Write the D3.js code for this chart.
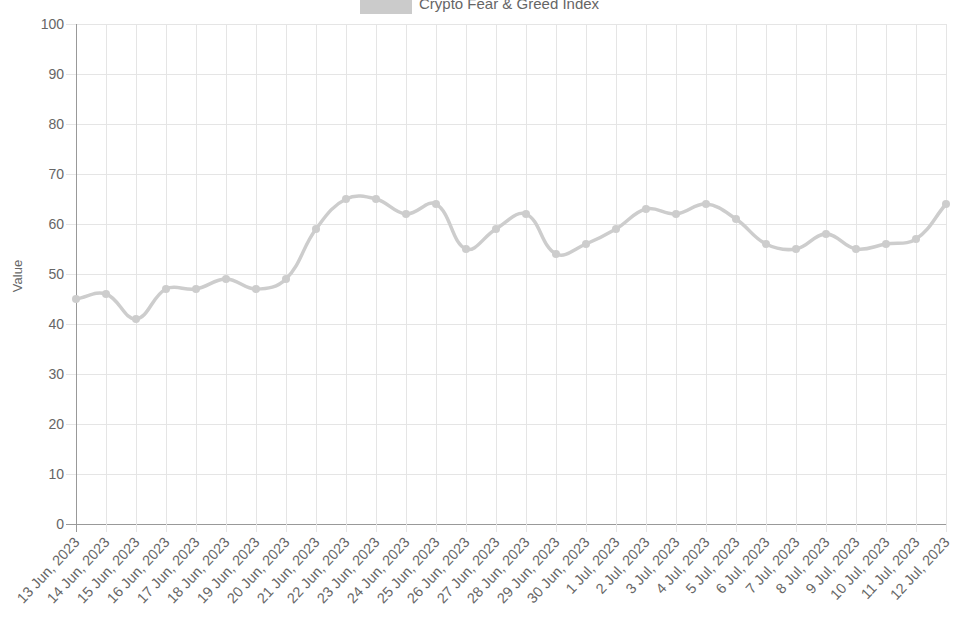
<!DOCTYPE html>
<html><head><meta charset="utf-8">
<script src="https://cdn.jsdelivr.net/npm/d3@7"></script>
<style>body{margin:0;background:#fff;}svg{display:block;font-family:"Liberation Sans",Arial,Helvetica,sans-serif;}</style>
</head><body>
<svg id="c" width="974" height="624"></svg>
<script>
const dates = ["13 Jun, 2023","14 Jun, 2023","15 Jun, 2023","16 Jun, 2023","17 Jun, 2023","18 Jun, 2023","19 Jun, 2023","20 Jun, 2023","21 Jun, 2023","22 Jun, 2023","23 Jun, 2023","24 Jun, 2023","25 Jun, 2023","26 Jun, 2023","27 Jun, 2023","28 Jun, 2023","29 Jun, 2023","30 Jun, 2023","1 Jul, 2023","2 Jul, 2023","3 Jul, 2023","4 Jul, 2023","5 Jul, 2023","6 Jul, 2023","7 Jul, 2023","8 Jul, 2023","9 Jul, 2023","10 Jul, 2023","11 Jul, 2023","12 Jul, 2023"];
const values = [45,46,41,47,47,49,47,49,59,65,65,62,64,55,59,62,54,56,59,63,62,64,61,56,55,58,55,56,57,64];
const yTicks = [0,10,20,30,40,50,60,70,80,90,100];
const seriesName = "Crypto Fear & Greed Index";

const svg = d3.select("#c");
const mLeft = 76, mRight = 946, mTop = 24, mBottom = 524;
const x = d3.scalePoint().domain(dates).range([mLeft, mRight]);
const y = d3.scaleLinear().domain([0,100]).range([mBottom, mTop]);
const grid = "#e5e5e5", axisCol = "#999", txt = "#666";

// horizontal grid
svg.append("g").selectAll("line").data(yTicks).join("line")
  .attr("x1", mLeft-10).attr("x2", mRight).attr("y1", d=>y(d)).attr("y2", d=>y(d))
  .attr("stroke", d=> d===0 ? axisCol : grid).attr("stroke-width",1)
  .attr("shape-rendering","crispEdges");
// vertical grid
svg.append("g").selectAll("line").data(dates).join("line")
  .attr("x1", d=>x(d)).attr("x2", d=>x(d)).attr("y1", mTop).attr("y2", mBottom+8)
  .attr("stroke", (d,i)=> i===0 ? axisCol : grid).attr("stroke-width",1)
  .attr("shape-rendering","crispEdges");

// y labels
svg.append("g").selectAll("text").data(yTicks).join("text")
  .attr("x", mLeft-12).attr("y", d=>y(d)).attr("dy","0.35em")
  .attr("text-anchor","end").attr("font-size",14).attr("fill",txt).text(d=>d);
// x labels
svg.append("g").selectAll("text").data(dates).join("text")
  .attr("transform", d=>`translate(${x(d)-3},${mBottom+12}) rotate(-47)`)
  .attr("text-anchor","end").attr("dy","0.7em").attr("font-size",14.5).attr("fill",txt).text(d=>d);
// y title
svg.append("text").attr("transform",`translate(22,${(mTop+mBottom)/2+2}) rotate(-90)`)
  .attr("text-anchor","middle").attr("font-size",13).attr("fill",txt).text("Value");

// legend
svg.append("rect").attr("x",360).attr("y",-1).attr("width",52).attr("height",15).attr("fill","#cbcbcb");
svg.append("text").attr("x",419).attr("y",9).attr("font-size",15).attr("fill",txt).text(seriesName);

// Chart.js style spline (tension 0.4)
const pts = values.map((v,i)=>[x(dates[i]), y(v)]);
const t = 0.4;
const cps = pts.map((p,i)=>{
  const prev = pts[Math.max(0,i-1)], next = pts[Math.min(pts.length-1,i+1)];
  const d01 = Math.hypot(p[0]-prev[0], p[1]-prev[1]);
  const d12 = Math.hypot(next[0]-p[0], next[1]-p[1]);
  let s01 = d01/(d01+d12), s12 = d12/(d01+d12);
  if (!isFinite(s01)) s01 = 0; if (!isFinite(s12)) s12 = 0;
  const fa = t*s01, fb = t*s12;
  return {prev:[p[0]-fa*(next[0]-prev[0]), p[1]-fa*(next[1]-prev[1])],
          next:[p[0]+fb*(next[0]-prev[0]), p[1]+fb*(next[1]-prev[1])]};
});
const path = d3.path();
path.moveTo(pts[0][0], pts[0][1]);
for (let i=1;i<pts.length;i++){
  const c1 = cps[i-1].next, c2 = cps[i].prev;
  path.bezierCurveTo(c1[0],c1[1],c2[0],c2[1],pts[i][0],pts[i][1]);
}
svg.append("path").attr("d", path.toString()).attr("fill","none")
  .attr("stroke","#cdcdcd").attr("stroke-width",3.5);
svg.append("g").selectAll("circle").data(values).join("circle")
  .attr("cx",(d,i)=>x(dates[i])).attr("cy",d=>y(d)).attr("r",4).attr("fill","#cdcdcd");
</script>
</body></html>
